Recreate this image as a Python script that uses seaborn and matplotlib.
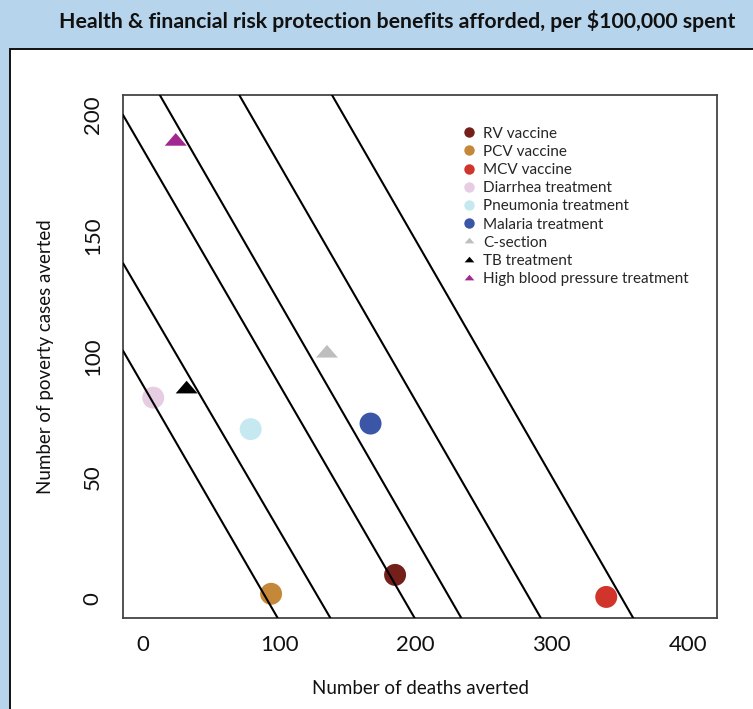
"""
Health & financial risk protection benefits per $100,000 spent
Scatter of deaths averted vs poverty cases averted, with iso-benefit lines
"""

import numpy as np
import pandas as pd
import matplotlib
matplotlib.use("Agg")
import matplotlib.pyplot as plt
from matplotlib.lines import Line2D
from matplotlib.patches import Rectangle
import seaborn as sns

# Configuration
CONFIG = {
    "width_px": 753,
    "height_px": 709,
    "dpi": 100,
    "font": ["Lato", "DejaVu Sans"],
    "panel_blue": "#b7d4ed",
    "output": "out.png",
}

# Data
interventions = [
    "RV vaccine", "PCV vaccine", "MCV vaccine", "Diarrhea treatment",
    "Pneumonia treatment", "Malaria treatment", "C-section",
    "TB treatment", "High blood pressure treatment",
]
deaths_averted = [185, 94, 340, 7.5, 79, 167, 135, 32, 24]
poverty_averted = [9.8, 2, 0.7, 83, 70, 72.3, 101.3, 86.5, 188.8]
marker_kind = ["circle", "circle", "circle", "circle", "circle", "circle",
               "triangle", "triangle", "triangle"]
colors = ["#741f1a", "#c48838", "#d0342b", "#e6cde3", "#c6e8f0",
          "#3b56a6", "#bebebe", "#000000", "#a02890"]

# iso-benefit lines: y-intercept (deaths = 0) and x-intercept (poverty = 0)
line_y0 = [88.1, 124.4, 185.5, 220.0, 276.9, 343.5]
line_x0 = [90.6, 129.2, 191.1, 225.4, 283.8, 351.6]

x_ticks = [0, 100, 200, 300, 400]
y_ticks = [0, 50, 100, 150, 200]

# flat triangle like the original
TRIANGLE = np.array([(-1.0, -0.385), (1.0, -0.385), (0.0, 0.77), (-1.0, -0.385)])


def make_figure():
    """Blue header with white bordered panel"""
    fig = plt.figure(figsize=(CONFIG["width_px"] / CONFIG["dpi"],
                              CONFIG["height_px"] / CONFIG["dpi"]),
                     dpi=CONFIG["dpi"])
    fig.patch.set_facecolor(CONFIG["panel_blue"])

    W, H = CONFIG["width_px"], CONFIG["height_px"]
    panel = Rectangle((10 / W, -0.05), 1.1, 1 - 49 / H + 0.05,
                      transform=fig.transFigure, facecolor="white",
                      edgecolor="#111111", linewidth=1.4, zorder=-10)
    fig.patches.append(panel)

    fig.text(397 / W, 1 - 21 / H,
             "Health & financial risk protection benefits afforded, per $100,000 spent",
             ha="center", va="center", fontsize=15.3, fontweight="bold",
             color="#111111")
    return fig


def draw_chart(fig):
    W, H = CONFIG["width_px"], CONFIG["height_px"]
    ax = fig.add_axes([123 / W, 1 - 618 / H, (717 - 123) / W, (618 - 95) / H])
    ax.set_facecolor("white")

    df = pd.DataFrame({
        "intervention": interventions,
        "deaths": deaths_averted,
        "poverty": poverty_averted,
        "kind": marker_kind,
    })
    palette = dict(zip(interventions, colors))

    sns.scatterplot(data=df, x="deaths", y="poverty", hue="intervention",
                    style="kind", palette=palette,
                    markers={"circle": "o", "triangle": TRIANGLE},
                    s=250, linewidth=0, legend=False, ax=ax, zorder=2)

    for y0, x0 in zip(line_y0, line_x0):
        ax.axline((0, y0), (x0, 0), color="black", linewidth=1.5, zorder=3)

    ax.set_xlim(-14.7, 421.3)
    ax.set_ylim(-8, 208)
    ax.set_xticks(x_ticks)
    ax.set_yticks(y_ticks)
    ax.tick_params(axis="both", direction="out", length=7.5, width=1.3,
                   color="#111111", labelsize=16, labelcolor="#111111")
    ax.tick_params(axis="x", pad=5)
    ax.tick_params(axis="y", pad=7)
    for lab in ax.get_yticklabels():
        lab.set_rotation(90)
        lab.set_va("center")

    for side in ax.spines.values():
        side.set_color("#444444")
        side.set_linewidth(1.3)

    ax.set_xlabel("Number of deaths averted", fontsize=13.5, labelpad=18,
                  color="#111111")
    ax.set_ylabel("Number of poverty cases averted", fontsize=13.5,
                  labelpad=21, color="#111111")

    # Legend
    handles = []
    for name, kind, c in zip(interventions, marker_kind, colors):
        mk = "o" if kind == "circle" else TRIANGLE
        ms = 7.5 if kind == "circle" else 7
        handles.append(Line2D([], [], linestyle="none", marker=mk,
                              markersize=ms, markerfacecolor=c,
                              markeredgewidth=0))
    ax.legend(handles, interventions, loc="upper left",
              bbox_to_anchor=((462 - 123) / (717 - 123), (618 - 126.5) / (618 - 95)),
              frameon=False, fontsize=11, handlelength=0.9,
              handletextpad=0.5, labelspacing=0.275, borderaxespad=0,
              borderpad=0)
    return ax


def main():
    sns.set_theme(style="white")
    plt.rcParams["font.family"] = CONFIG["font"]
    fig = make_figure()
    draw_chart(fig)
    fig.savefig(CONFIG["output"], dpi=CONFIG["dpi"],
                facecolor=fig.get_facecolor())
    plt.close(fig)


if __name__ == "__main__":
    main()
